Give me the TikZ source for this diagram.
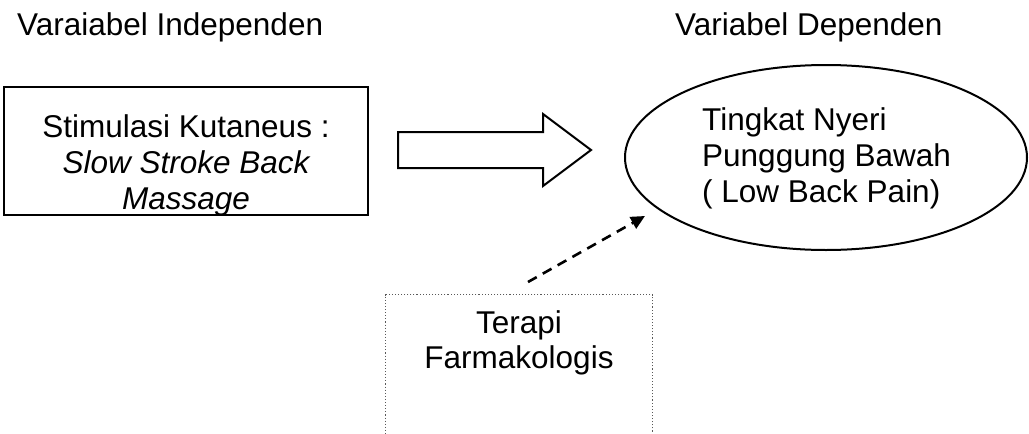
\documentclass[tikz,border=0pt]{standalone}
\usepackage{fontspec}
\setmainfont{Liberation Sans}
\usetikzlibrary{arrows.meta,shapes.geometric}
\tikzset{
  txt/.style={inner sep=0pt,font=\fontsize{31.5}{36.2}\selectfont},
  solidbox/.style={draw=black,line width=2pt,rectangle,inner sep=0pt},
  dotbox/.style={draw=black!65,line width=1.1pt,dotted,rectangle,inner sep=0pt},
  oval/.style={draw=black,line width=2pt,ellipse,inner sep=0pt},
  blockarrow/.style={draw=black,line width=2pt,fill=white,line join=miter},
  dasharrow/.style={draw=black,line width=2.6pt,dash pattern=on 10pt off 7pt,-{Triangle[length=14pt,width=13pt]}}
}
\begin{document}
\begin{tikzpicture}[x=1pt,y=-1pt]
\clip (0,0) rectangle (1029,434);
\fill[white] (0,0) rectangle (1029,434);
% headings
\node[txt,anchor=base west] (hind) at (17,35) {Varaiabel Independen};
\node[txt,anchor=base west] (hdep) at (675,35) {Variabel Dependen};
% independent variable box
\node[solidbox,minimum width=364pt,minimum height=128pt] (iv) at (186,151) {};
\node[txt,anchor=base] (iv1) at (186,137) {Stimulasi Kutaneus :};
\node[txt,anchor=base] (iv2) at (186,173) {\itshape Slow Stroke Back};
\node[txt,anchor=base] (iv3) at (186,209) {\itshape Massage};
% dependent variable ellipse
\node[oval,minimum width=402pt,minimum height=185pt] (dv) at (826,157.5) {};
\node[txt,anchor=base west] (dv1) at (702,130) {Tingkat Nyeri};
\node[txt,anchor=base west] (dv2) at (702,166) {Punggung Bawah};
\node[txt,anchor=base west] (dv3) at (702,202) {( Low Back Pain)};
% block arrow
\draw[blockarrow] (398,132) -- (543,132) -- (543,114) -- (591,150) -- (543,186) -- (543,168) -- (398,168) -- cycle;
% confounding variable box (runs off the bottom)
\node[dotbox,minimum width=267pt,minimum height=180pt,anchor=north west] (cv) at (385,294) {};
\node[txt,anchor=base] (cv1) at (519,333) {Terapi};
\node[txt,anchor=base] (cv2) at (519,368) {Farmakologis};
% dashed arrow
\coordinate (ds) at (528,282);
\coordinate (de) at (645,216);
\draw[dasharrow] (ds) -- (de);
\end{tikzpicture}
\end{document}
